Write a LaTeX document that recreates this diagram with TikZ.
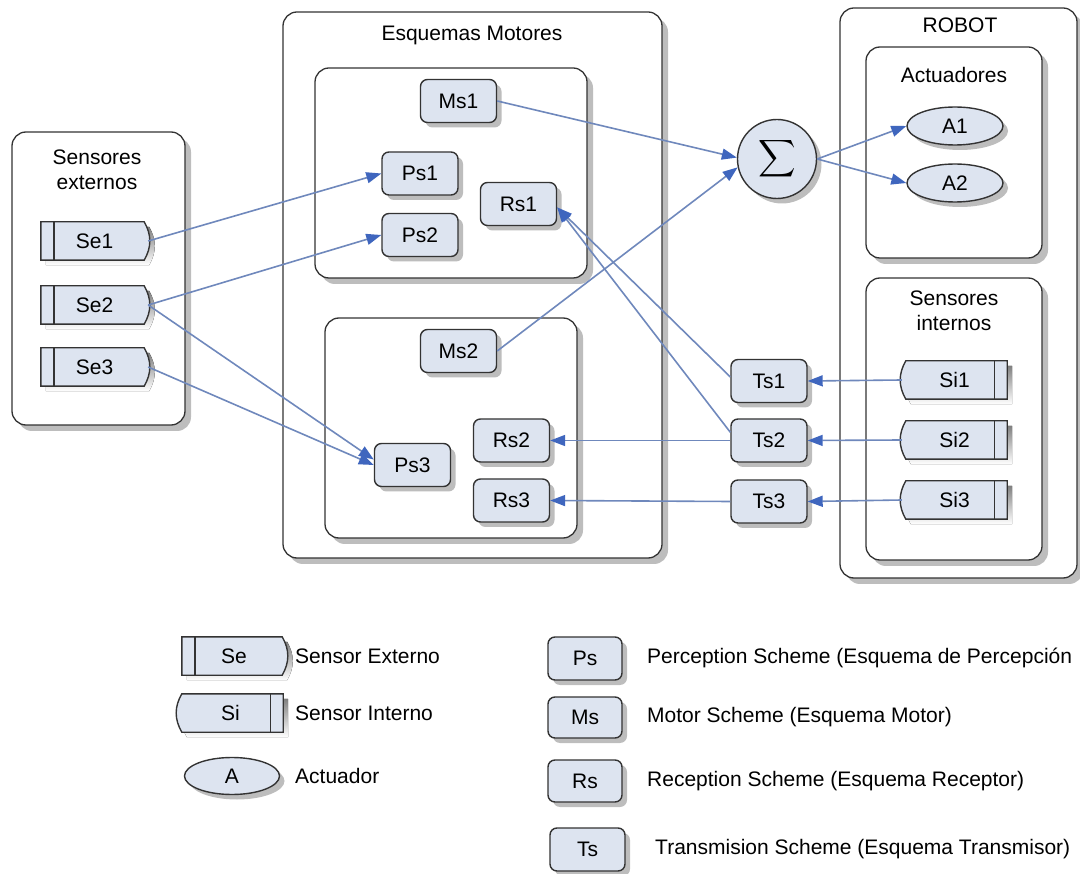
\documentclass[tikz,border=0pt]{standalone}
\usepackage{fontspec}
\setmainfont{Liberation Sans}
\usetikzlibrary{arrows.meta,shadows,shapes.geometric}
\definecolor{boxfill}{HTML}{DDE4F0}
\definecolor{edge}{HTML}{333333}
\definecolor{link}{HTML}{6F88BC}
\definecolor{tip}{HTML}{3F66BE}
\definecolor{shade}{HTML}{BDBDBD}
\pgfdeclarelayer{bg}
\pgfdeclarelayer{mid}
\pgfsetlayers{bg,mid,main}

% sensor outlines: a box with a bar on one side and a rounded bulge on the other
\newcommand\extsensor[1]{%
  \begin{pgfonlayer}{mid}
    \fill[shade] ([shift={(5pt,-5pt)}]#1.north west) -- ([shift={(1pt,-5pt)}]#1.north east)
      to[bend left=30] ([shift={(1pt,-5pt)}]#1.south east) -- ([shift={(5pt,-5pt)}]#1.south west) -- cycle;
    \draw[outline, fill=boxfill] (#1.north west) -- ([xshift=-4pt]#1.north east)
      to[bend left=30] ([xshift=-4pt]#1.south east) -- (#1.south west) -- cycle;
    \draw[outline] ([xshift=13pt]#1.north west) -- ([xshift=13pt]#1.south west);
  \end{pgfonlayer}}
\newcommand\intsensor[1]{%
  \begin{pgfonlayer}{mid}
    \fill[shade] ([shift={(9pt,-5pt)}]#1.north west) -- ([shift={(5pt,-5pt)}]#1.north east)
      -- ([shift={(5pt,-5pt)}]#1.south east) -- ([shift={(9pt,-5pt)}]#1.south west)
      to[bend left=30] cycle;
    \draw[outline, fill=boxfill] ([xshift=4pt]#1.north west) -- (#1.north east)
      -- (#1.south east) -- ([xshift=4pt]#1.south west) to[bend left=30] cycle;
    \draw[outline] ([xshift=-13pt]#1.north east) -- ([xshift=-13pt]#1.south east);
  \end{pgfonlayer}}

\begin{document}
\begin{tikzpicture}[x=1pt, y=-1pt, font=\fontsize{21}{25}\selectfont,
  outline/.style={draw=edge, line width=1.4pt},
  container/.style={draw=edge, line width=1.3pt, rounded corners=14pt, fill=white,
    inner sep=0pt, drop shadow={shadow xshift=6pt, shadow yshift=-6pt, fill=shade, opacity=1}},
  scheme/.style={draw=edge, line width=1.4pt, rounded corners=7pt, fill=boxfill,
    minimum width=76pt, minimum height=43pt, inner sep=0pt,
    drop shadow={shadow xshift=5pt, shadow yshift=-5pt, fill=shade, opacity=1}},
  sensorbox/.style={rectangle, minimum height=38pt, inner sep=0pt},
  actuator/.style={ellipse, draw=edge, line width=1.4pt, fill=boxfill, inner sep=0pt,
    minimum width=96pt, minimum height=38pt,
    drop shadow={shadow xshift=5pt, shadow yshift=-5pt, fill=shade, opacity=1}},
  title/.style={align=center, inner sep=0pt},
  legendtext/.style={anchor=west, inner sep=0pt},
  link/.style={draw=link, line width=1.6pt, -{Triangle[length=15pt, width=11pt, color=tip]}}
]
\useasboundingbox (0,0) rectangle (1080,874);

% containers
\begin{pgfonlayer}{bg}
  \node[container, minimum width=173pt, minimum height=293pt] (ext) at (98.5,278.5) {};
  \node[container, minimum width=379pt, minimum height=546pt] (em) at (472.5,285) {};
  \node[container, minimum width=272pt, minimum height=210pt] (emtop) at (451,173) {};
  \node[container, minimum width=252pt, minimum height=220pt] (embot) at (451,428) {};
  \node[container, minimum width=237pt, minimum height=570pt] (robot) at (958.5,293) {};
  \node[container, minimum width=176pt, minimum height=211pt] (act) at (954,152.5) {};
  \node[container, minimum width=176pt, minimum height=282pt] (sint) at (954,419) {};
\end{pgfonlayer}

% container titles
\node[title] (extT) at (97,170) {Sensores\\externos};
\node[title] (emT) at (472,35) {Esquemas Motores};
\node[title] (robotT) at (960,25) {ROBOT};
\node[title] (actT) at (954,75) {Actuadores};
\node[title] (sintT) at (954,310.5) {Sensores\\internos};

% external sensors
\node[sensorbox, minimum width=107pt] (Se1) at (94.5,241) {Se1};
\node[sensorbox, minimum width=107pt] (Se2) at (94.5,305) {Se2};
\node[sensorbox, minimum width=107pt] (Se3) at (94.5,367) {Se3};
\extsensor{Se1}\extsensor{Se2}\extsensor{Se3}

% motor schemas
\node[scheme] (Ms1) at (458.5,101) {Ms1};
\node[scheme] (Ps1) at (420,173.5) {Ps1};
\node[scheme] (Ps2) at (420,235) {Ps2};
\node[scheme] (Rs1) at (518.5,204) {Rs1};
\node[scheme] (Ms2) at (458.5,351) {Ms2};
\node[scheme] (Ps3) at (412.5,465) {Ps3};
\node[scheme] (Rs2) at (511.5,440.5) {Rs2};
\node[scheme] (Rs3) at (511.5,500.5) {Rs3};

% summation
\node[circle, draw=edge, line width=1.4pt, fill=boxfill, minimum size=79pt, inner sep=0pt,
  drop shadow={shadow xshift=5pt, shadow yshift=-5pt, fill=shade, opacity=1}]
  (sum) at (777,159) {\scalebox{2.6}{$\displaystyle\sum$}};

% transmission schemas
\node[scheme] (Ts1) at (769,381) {Ts1};
\node[scheme] (Ts2) at (769,440.5) {Ts2};
\node[scheme] (Ts3) at (769,501.5) {Ts3};

% actuators
\node[actuator] (A1) at (955,126) {A1};
\node[actuator] (A2) at (955,183) {A2};

% internal sensors
\node[sensorbox, minimum width=105pt] (Si1) at (954.5,380) {Si1};
\node[sensorbox, minimum width=105pt] (Si2) at (954.5,440) {Si2};
\node[sensorbox, minimum width=105pt] (Si3) at (954.5,500) {Si3};
\intsensor{Si1}\intsensor{Si2}\intsensor{Si3}

% connections
\draw[link] (Se1.east) -- (Ps1.west);
\draw[link] (Se2.east) -- (Ps2.west);
\draw[link] (Se2.east) -- (Ps3.172);
\draw[link] (Se3.east) -- (Ps3.180);
\draw[link] (Ms1.east) -- (sum.178);
\draw[link] (Ms2.east) -- (sum.192);
\draw[link] (sum.east) -- (A1.west);
\draw[link] (sum.east) -- (A2.west);
\draw[link] (Si1.west) -- (Ts1.east);
\draw[link] (Si2.west) -- (Ts2.east);
\draw[link] (Si3.west) -- (Ts3.east);
\draw[link] (Ts1.174) -- (Rs1.-5);
\draw[link] (Ts2.168) -- (Rs1.-5);
\draw[link] (Ts2.west) -- (Rs2.east);
\draw[link] (Ts3.west) -- (Rs3.east);

% legend
\node[sensorbox, minimum width=104pt] (lSe) at (234,656) {Se};
\extsensor{lSe}
\node[legendtext] (lSeT) at (295,656) {Sensor Externo};
\node[sensorbox, minimum width=105pt] (lSi) at (230.5,713) {Si};
\intsensor{lSi}
\node[legendtext] (lSiT) at (295,713) {Sensor Interno};
\node[actuator, minimum width=95pt, minimum height=37pt] (lA) at (232,776) {A};
\node[legendtext] (lAT) at (295,776) {Actuador};

\node[scheme, minimum width=74pt, minimum height=43pt] (lPs) at (585,658.5) {Ps};
\node[legendtext] (lPsT) at (647,658) {Perception Scheme (Esquema de Percepción};
\node[scheme, minimum width=74pt, minimum height=41pt] (lMs) at (585,717.5) {Ms};
\node[legendtext] (lMsT) at (647,717) {Motor Scheme (Esquema Motor)};
\node[scheme, minimum width=74pt, minimum height=42pt] (lRs) at (585,781) {Rs};
\node[legendtext] (lRsT) at (647,781) {Reception Scheme (Esquema Receptor)};
\node[scheme, minimum width=75pt, minimum height=43pt] (lTs) at (587.5,849.5) {Ts};
\node[legendtext] (lTsT) at (655,849) {Transmision Scheme (Esquema Transmisor)};
\end{tikzpicture}
\end{document}
